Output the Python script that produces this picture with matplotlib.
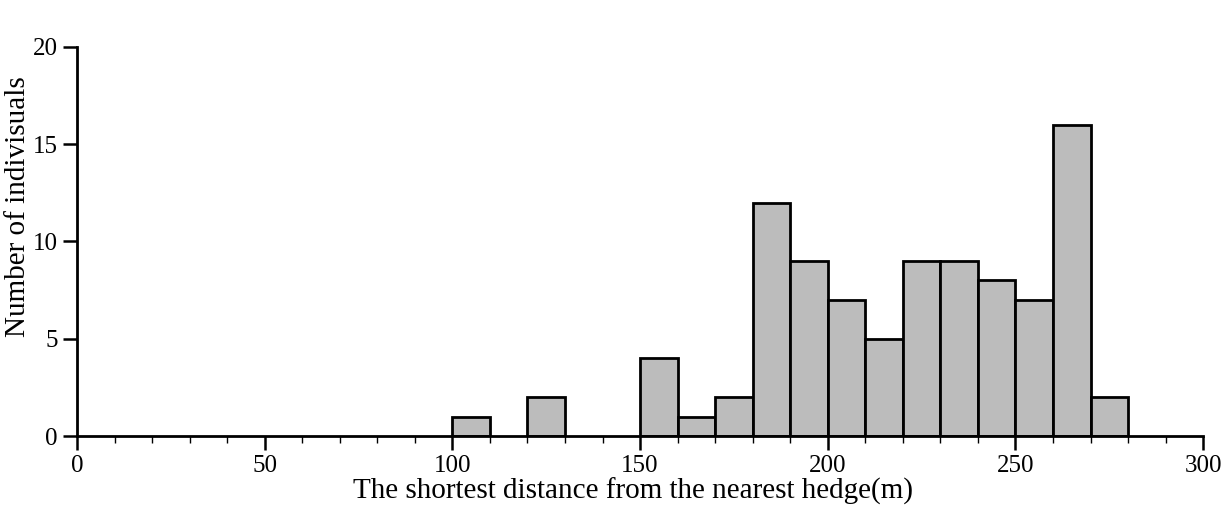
import matplotlib
matplotlib.use("Agg")
import matplotlib.pyplot as plt
from matplotlib.ticker import MultipleLocator

bin_left = [100, 120, 150, 160, 170, 180, 190, 200, 210, 220, 230, 240, 250, 260, 270]
counts = [1, 2, 4, 1, 2, 12, 9, 7, 5, 9, 9, 8, 7, 16, 2]
bin_width = 10

plt.rcParams['font.family'] = ['Liberation Serif', 'DejaVu Serif']

fig = plt.figure(figsize=(12.24, 5.05), dpi=100)
ax = fig.add_axes([0.0629, 0.1366, 0.9201, 0.7704])

ax.bar(bin_left, counts, width=bin_width, align='edge',
       facecolor='#bcbcbc', edgecolor='black', linewidth=2.0, zorder=2)

ax.set_xlim(0, 300)
ax.set_ylim(0, 20)
ax.xaxis.set_major_locator(MultipleLocator(50))
ax.xaxis.set_minor_locator(MultipleLocator(10))
ax.yaxis.set_major_locator(MultipleLocator(5))

for s in ['top', 'right']:
    ax.spines[s].set_visible(False)
for s in ['left', 'bottom']:
    ax.spines[s].set_linewidth(2.0)

ax.tick_params(axis='both', which='major', direction='out', length=10, width=1.8,
               labelsize=18, pad=4, colors='black')
ax.tick_params(axis='x', which='minor', direction='out', length=5, width=1.0)

ax.set_xlabel('The shortest distance from the nearest hedge(m)', fontsize=21)
ax.set_ylabel('Number of indivisuals', fontsize=21)
ax.xaxis.set_label_coords(0.494, -0.108)
ax.yaxis.set_label_coords(-0.041, 0.589)

fig.savefig('out.png', dpi=100)
